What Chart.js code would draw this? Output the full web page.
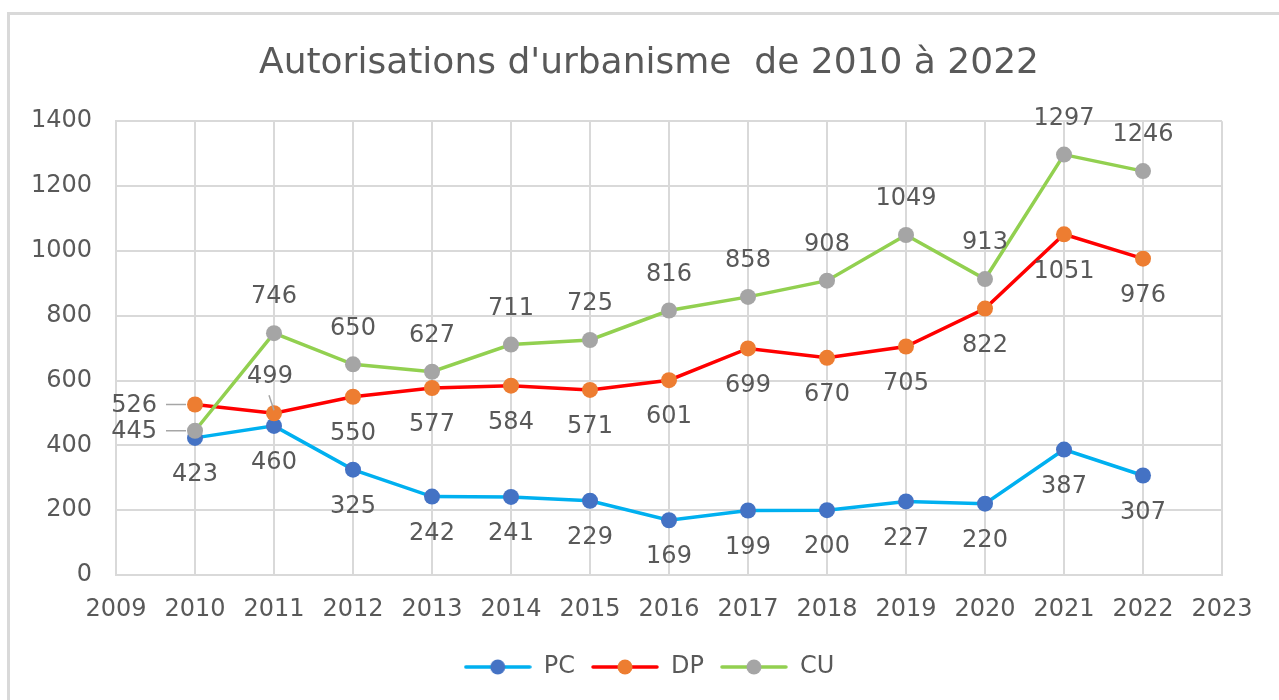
<!DOCTYPE html>
<html>
<head>
<meta charset="utf-8">
<script src="https://cdn.jsdelivr.net/npm/chart.js@4.4.1/dist/chart.umd.min.js"></script>
<style>
html, body { margin: 0; padding: 0; background: #fff; overflow: hidden; }
#frame { position: absolute; left: 7px; top: 12px; width: 1320px; height: 720px;
         border-top: 3px solid #d9d9d9; border-left: 3px solid #d9d9d9; }
canvas { position: absolute; left: 0; top: 0; }
</style>
</head>
<body>
<div id="frame"></div>
<canvas id="chart" width="1298" height="700"></canvas>
<script>
// données
const years = [2010, 2011, 2012, 2013, 2014, 2015, 2016, 2017, 2018, 2019, 2020, 2021, 2022];
const pcValues = [423, 460, 325, 242, 241, 229, 169, 199, 200, 227, 220, 387, 307];
const dpValues = [526, 499, 550, 577, 584, 571, 601, 699, 670, 705, 822, 1051, 976];
const cuValues = [445, 746, 650, 627, 711, 725, 816, 858, 908, 1049, 913, 1297, 1246];
const xTicks = [2009, 2010, 2011, 2012, 2013, 2014, 2015, 2016, 2017, 2018, 2019, 2020, 2021, 2022, 2023];
const yTicks = [0, 200, 400, 600, 800, 1000, 1200, 1400];

const textColor = '#595959';
const gridColor = '#d9d9d9';
const fontFamily = '"DejaVu Sans", sans-serif';
const fontSize = 24;

// position des étiquettes : par défaut, puis exceptions par index
const labelPlacement = {
    PC: { def: 'below' },
    DP: { def: 'below', 0: 'left', 1: 'above-leader' },
    CU: { def: 'above', 0: 'left' }
};

function toPoints(values) {
    return values.map((v, i) => ({ x: years[i], y: v }));
}

// petit dessin ligne + marqueur pour la légende
function legendSwatch(lineColor, pointColor) {
    const c = document.createElement('canvas');
    c.width = 68;
    c.height = 18;
    const g = c.getContext('2d');
    g.strokeStyle = lineColor;
    g.lineWidth = 3.5;
    g.lineCap = 'round';
    g.beginPath();
    g.moveTo(2, 9);
    g.lineTo(66, 9);
    g.stroke();
    g.fillStyle = pointColor;
    g.beginPath();
    g.arc(34, 9, 7.5, 0, Math.PI * 2);
    g.fill();
    return c;
}

const dataLabels = {
    id: 'dataLabels',
    afterDatasetsDraw(chart) {
        const ctx = chart.ctx;
        ctx.save();
        ctx.font = fontSize + 'px ' + fontFamily;
        ctx.fillStyle = textColor;
        ctx.textBaseline = 'middle';
        chart.data.datasets.forEach((ds, di) => {
            const meta = chart.getDatasetMeta(di);
            const place = labelPlacement[ds.label];
            meta.data.forEach((pt, i) => {
                const value = ds.data[i].y;
                const pos = place[i] || place.def;
                const x = pt.x, y = pt.y;
                ctx.strokeStyle = '#a6a6a6';
                ctx.lineWidth = 1.5;
                if (pos === 'left') {
                    ctx.textAlign = 'right';
                    ctx.fillText(value, x - 38, y + 1);
                    ctx.beginPath();
                    ctx.moveTo(x - 29, y);
                    ctx.lineTo(x - 9, y);
                    ctx.stroke();
                } else if (pos === 'above-leader') {
                    ctx.textAlign = 'center';
                    ctx.fillText(value, x - 4, y - 36);
                    ctx.beginPath();
                    ctx.moveTo(x - 5, y - 18);
                    ctx.lineTo(x, y - 3);
                    ctx.stroke();
                } else if (pos === 'above') {
                    ctx.textAlign = 'center';
                    ctx.fillText(value, x, y - 36);
                } else {
                    ctx.textAlign = 'center';
                    ctx.fillText(value, x, y + 37);
                }
            });
        });
        ctx.restore();
    }
};

const series = [
    { label: 'PC', values: pcValues, line: '#00b0f0', point: '#4472c4', order: 3 },
    { label: 'DP', values: dpValues, line: '#ff0000', point: '#ed7d31', order: 2 },
    { label: 'CU', values: cuValues, line: '#92d050', point: '#a5a5a5', order: 1 }
];

new Chart(document.getElementById('chart').getContext('2d'), {
    type: 'line',
    data: {
        datasets: series.map(s => ({
            label: s.label,
            data: toPoints(s.values),
            borderColor: s.line,
            borderWidth: 3.5,
            backgroundColor: s.point,
            pointBackgroundColor: s.point,
            pointBorderWidth: 0,
            pointRadius: 8,
            pointHoverRadius: 8,
            tension: 0,
            order: s.order
        }))
    },
    options: {
        responsive: false,
        animation: false,
        layout: {
            padding: { left: 0, right: 0, top: 0, bottom: 11 }
        },
        plugins: {
            title: {
                display: true,
                text: "Autorisations d'urbanisme  de 2010 à 2022",
                color: textColor,
                font: { family: fontFamily, size: 36, weight: 'normal' },
                padding: { top: 42, bottom: 36 }
            },
            legend: {
                position: 'bottom',
                labels: {
                    color: textColor,
                    font: { family: fontFamily, size: fontSize },
                    usePointStyle: true,
                    pointStyleWidth: 68,
                    padding: 16,
                    generateLabels: () => series.map((s, i) => ({
                        text: s.label,
                        pointStyle: legendSwatch(s.line, s.point),
                        fillStyle: s.point,
                        strokeStyle: s.line,
                        lineWidth: 0,
                        fontColor: textColor,
                        datasetIndex: i,
                        hidden: false
                    }))
                },
                onClick: null
            },
            tooltip: { enabled: false }
        },
        scales: {
            x: {
                type: 'linear',
                min: xTicks[0],
                max: xTicks[xTicks.length - 1],
                afterBuildTicks: scale => { scale.ticks = xTicks.map(v => ({ value: v })); },
                afterFit: scale => { scale.height = 64; },
                ticks: {
                    color: textColor,
                    font: { family: fontFamily, size: fontSize },
                    padding: 20,
                    maxRotation: 0,
                    autoSkip: false,
                    callback: v => String(v)
                },
                grid: { color: gridColor, lineWidth: 2, drawTicks: false },
                border: { color: gridColor, width: 2 }
            },
            y: {
                min: yTicks[0],
                max: yTicks[yTicks.length - 1],
                afterBuildTicks: scale => { scale.ticks = yTicks.map(v => ({ value: v })); },
                afterFit: scale => { scale.width = 116; },
                ticks: {
                    color: textColor,
                    font: { family: fontFamily, size: fontSize },
                    padding: 24,
                    callback: v => String(v)
                },
                grid: { color: gridColor, lineWidth: 2, drawTicks: false },
                border: { color: gridColor, width: 2 }
            },
            // axe vide à droite pour caler la zone de tracé
            yRight: {
                position: 'right',
                display: true,
                afterFit: scale => { scale.width = 76; },
                ticks: { display: false },
                grid: { display: false },
                border: { display: false }
            }
        }
    },
    plugins: [dataLabels]
});
</script>
</body>
</html>
